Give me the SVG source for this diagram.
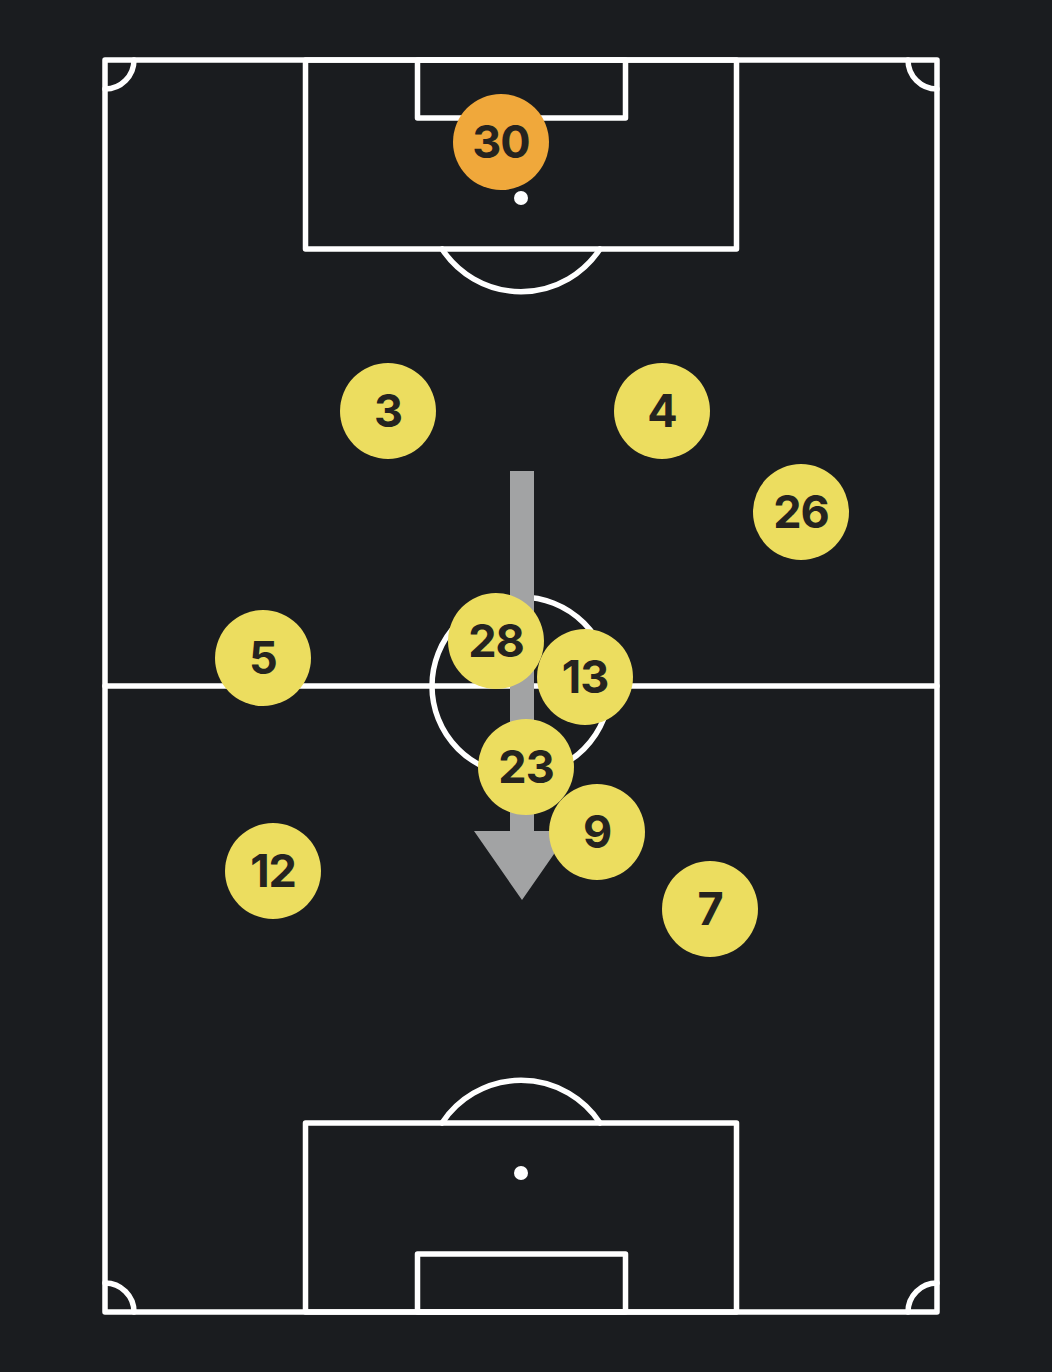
<svg xmlns="http://www.w3.org/2000/svg" width="1052" height="1372" viewBox="0 0 1052 1372">
<style>
.ln{fill:none;stroke:#ffffff;stroke-width:5.5;stroke-linejoin:round;stroke-linecap:round}
.spot{fill:#ffffff}
.pl{fill:#ecdd5f}
.gk{fill:#f0a83b}
.num{font-family:Inter,"Liberation Sans",sans-serif;font-weight:700;font-size:45px;letter-spacing:-1px;fill:#25231f;text-anchor:middle}
</style>
<rect width="1052" height="1372" fill="#1a1c1f"/>
<g id="pitch">
<rect class="ln" x="105" y="60" width="832" height="1252"/>
<line class="ln" x1="105" y1="686" x2="937" y2="686"/>
<circle class="ln" cx="521" cy="686" r="89"/>
<rect class="ln" x="305.5" y="60" width="431" height="189"/>
<rect class="ln" x="417.5" y="60" width="208" height="58"/>
<circle class="spot" cx="521" cy="198" r="7"/>
<path class="ln" d="M442 249 A94.5 94.5 0 0 0 600 249"/>
<rect class="ln" x="305.5" y="1123" width="431" height="189"/>
<rect class="ln" x="417.5" y="1254" width="208" height="58"/>
<circle class="spot" cx="521" cy="1173" r="7"/>
<path class="ln" d="M442 1123 A94.5 94.5 0 0 1 600 1123"/>
<path class="ln" d="M134 60 A29 29 0 0 1 105 89"/>
<path class="ln" d="M908 60 A29 29 0 0 0 937 89"/>
<path class="ln" d="M105 1283 A29 29 0 0 1 134 1312"/>
<path class="ln" d="M937 1283 A29 29 0 0 0 908 1312"/>
</g>
<g id="connectors">
<path id="arrow" d="M510 471 H534 V831 H570 L522 900 L474 831 H510 Z" fill="#a2a3a4"/>
</g>
<g id="p30"><circle class="gk" cx="501" cy="142" r="48"/><text class="num" x="501" y="158">30</text></g>
<g id="p3"><circle class="pl" cx="388" cy="411" r="48"/><text class="num" x="388" y="427">3</text></g>
<g id="p4"><circle class="pl" cx="662" cy="411" r="48"/><text class="num" x="662" y="427">4</text></g>
<g id="p26"><circle class="pl" cx="801" cy="512" r="48"/><text class="num" x="801" y="528">26</text></g>
<g id="p5"><circle class="pl" cx="263" cy="658" r="48"/><text class="num" x="263" y="674">5</text></g>
<g id="p28"><circle class="pl" cx="496" cy="641" r="48"/><text class="num" x="496" y="657">28</text></g>
<g id="p13"><circle class="pl" cx="585" cy="677" r="48"/><text class="num" x="585" y="693">13</text></g>
<g id="p23"><circle class="pl" cx="526" cy="767" r="48"/><text class="num" x="526" y="783">23</text></g>
<g id="p9"><circle class="pl" cx="597" cy="832" r="48"/><text class="num" x="597" y="848">9</text></g>
<g id="p12"><circle class="pl" cx="273" cy="871" r="48"/><text class="num" x="273" y="887">12</text></g>
<g id="p7"><circle class="pl" cx="710" cy="909" r="48"/><text class="num" x="710" y="925">7</text></g>
</svg>
